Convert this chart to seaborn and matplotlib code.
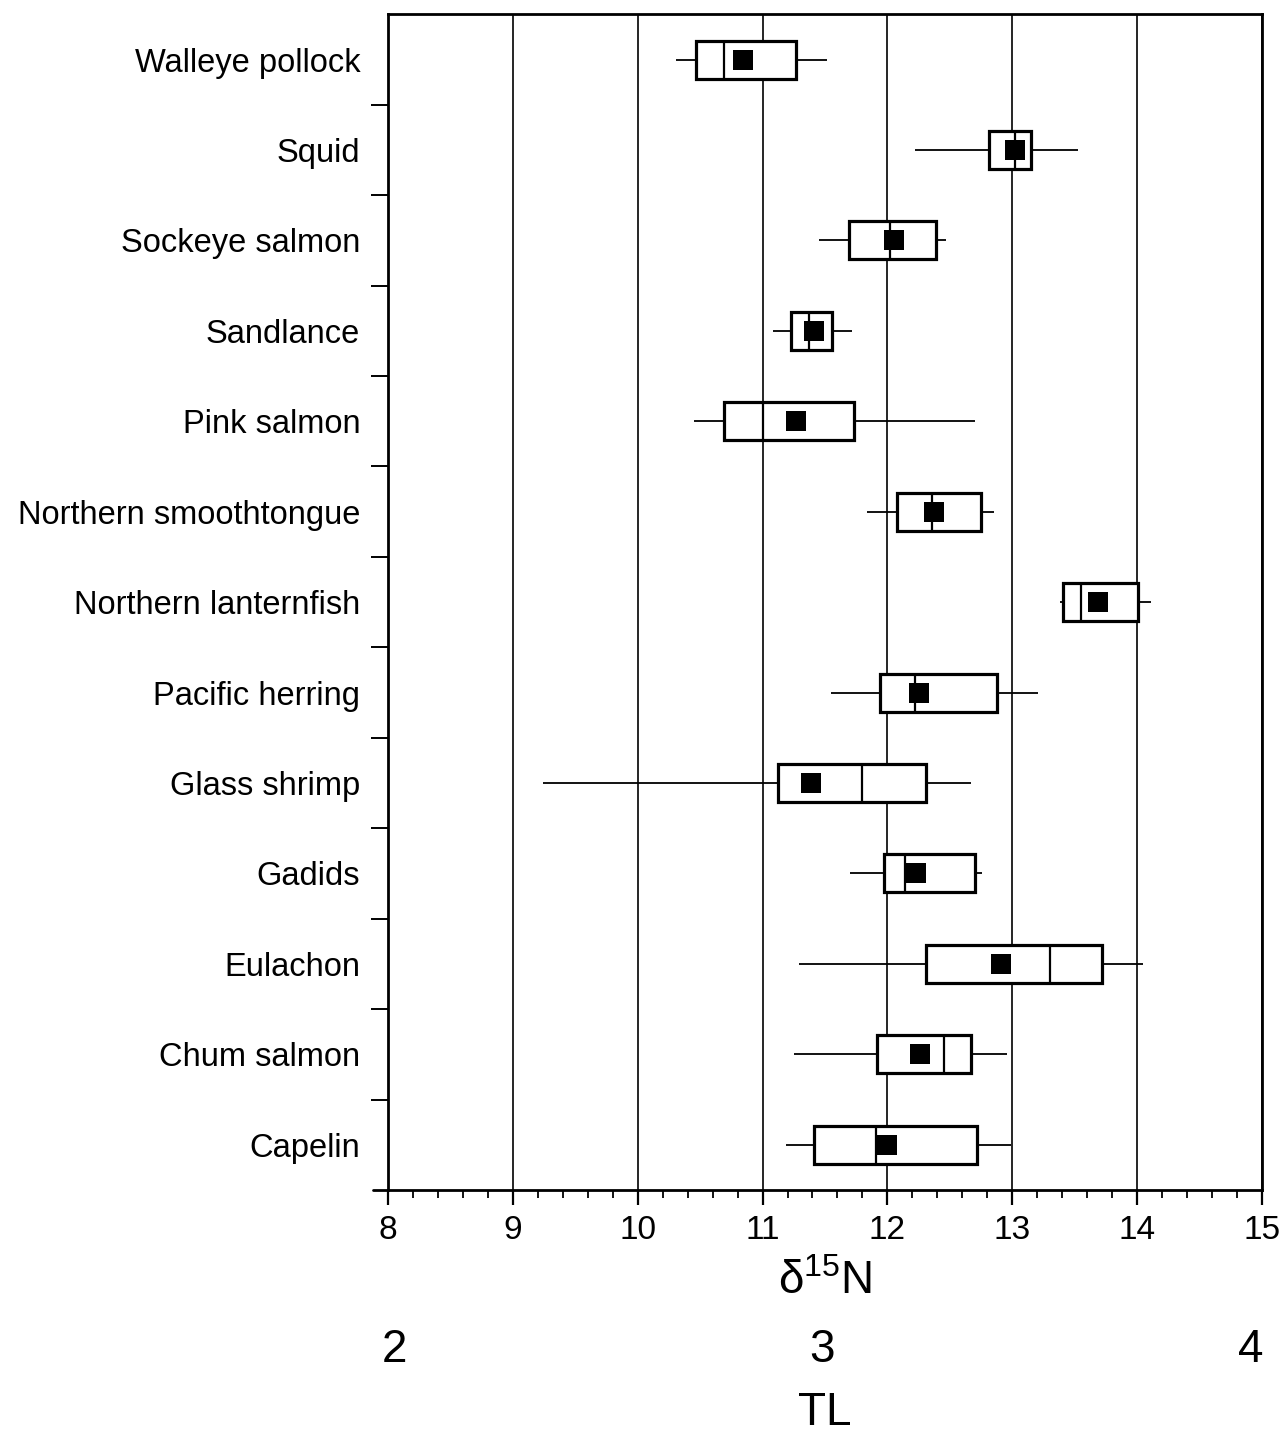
import numpy as np
import pandas as pd
import matplotlib
matplotlib.use("Agg")
import matplotlib.pyplot as plt
from matplotlib import font_manager
from matplotlib.ticker import MultipleLocator, FixedLocator, NullFormatter, NullLocator
from matplotlib.lines import Line2D
import seaborn as sns

# ---------------- data ----------------
species = ["Walleye pollock", "Squid", "Sockeye salmon", "Sandlance", "Pink salmon",
           "Northern smoothtongue", "Northern lanternfish", "Pacific herring",
           "Glass shrimp", "Gadids", "Eulachon", "Chum salmon", "Capelin"]
whisker_low = [10.31, 12.22, 11.45, 11.08, 10.45, 11.84, 13.38, 11.55, 9.24, 11.70, 11.29, 11.25, 11.19]
q1          = [10.47, 12.81, 11.69, 11.23, 10.69, 12.08, 13.41, 11.94, 11.12, 11.97, 12.31, 11.92, 11.41]
median      = [10.69, 13.02, 12.02, 11.37, 11.00, 12.36, 13.55, 12.22, 11.80, 12.14, 13.30, 12.45, 11.91]
q3          = [11.27, 13.15, 12.39, 11.56, 11.73, 12.75, 14.01, 12.88, 12.31, 12.70, 13.72, 12.67, 12.72]
whisker_high= [11.52, 13.53, 12.47, 11.72, 12.70, 12.85, 14.11, 13.21, 12.67, 12.76, 14.05, 12.96, 12.99]
mean        = [10.84, 13.02, 12.05, 11.41, 11.27, 12.37, 13.69, 12.25, 11.39, 12.23, 12.91, 12.26, 12.00]

x_ticks = [8, 9, 10, 11, 12, 13, 14, 15]
tl_levels = [2, 3, 4]
tl_base_d15n = 8.05     # d15N at TL = 2
tl_step = 3.43          # d15N enrichment per trophic level

# ---------------- fonts / style ----------------
def has_font(name):
    try:
        font_manager.findfont(font_manager.FontProperties(family=name), fallback_to_default=False)
        return True
    except Exception:
        return False

sns.set_style("ticks")
main_font = "Liberation Sans" if has_font("Liberation Sans") else "DejaVu Sans"
narrow_font = "Liberation Sans Narrow" if has_font("Liberation Sans Narrow") else main_font
plt.rcParams["font.family"] = [main_font, "DejaVu Sans"]
plt.rcParams["mathtext.fontset"] = "custom"
plt.rcParams["mathtext.rm"] = narrow_font
plt.rcParams["mathtext.it"] = narrow_font
for k in ["text.color", "axes.labelcolor", "xtick.color", "ytick.color",
          "xtick.labelcolor", "ytick.labelcolor", "axes.edgecolor"]:
    plt.rcParams[k] = "black"

# long-form table: five-number summaries per species -> boxplot with whiskers at min/max
rows = []
for sp, a, b, c, d, e in zip(species, whisker_low, q1, median, q3, whisker_high):
    for v in (a, b, c, d, e):
        rows.append({"species": sp, "d15n": v})
df = pd.DataFrame(rows)
df_mean = pd.DataFrame({"species": species, "d15n": mean})

fig = plt.figure(figsize=(12.86, 14.33), dpi=100)
ax = fig.add_axes([0.3017, 0.1696, 0.9813 - 0.3017, 0.990 - 0.1696])

sns.boxplot(data=df, x="d15n", y="species", order=species, orient="h",
            whis=np.inf, width=0.42, showcaps=False, fliersize=0,
            color="white", saturation=1, linecolor="black", linewidth=2.0,
            boxprops=dict(linewidth=2.3, edgecolor="black", facecolor="white"),
            whiskerprops=dict(linewidth=1.3, color="black"),
            medianprops=dict(linewidth=1.6, color="black"),
            ax=ax)
sns.stripplot(data=df_mean, x="d15n", y="species", order=species, orient="h",
              jitter=False, marker="s", size=14, color="black", linewidth=0,
              zorder=6, ax=ax)

ax.set_xlim(8, 15)
ax.set_ylim(12.5, -0.5)
ax.set_xticks(x_ticks)
ax.xaxis.set_minor_locator(MultipleLocator(0.2))
ax.xaxis.grid(True, which="major", color="black", linewidth=1.2)
ax.yaxis.grid(False)
ax.set_axisbelow(True)

for s in ax.spines.values():
    s.set_visible(True)
    s.set_linewidth(2.0)
    s.set_color("black")

# small overshoot of the x-axis line to the left, as in the original
ax.add_line(Line2D([-0.017, 0], [0, 0], transform=ax.transAxes, color="black",
                   linewidth=2.0, clip_on=False))

ax.tick_params(axis="x", which="both", bottom=True, top=False)
ax.tick_params(axis="x", which="major", direction="out", length=11, width=1.6,
               pad=7, labelsize=24, color="black", labelcolor="black")
ax.tick_params(axis="x", which="minor", direction="out", length=6, width=1.3, color="black")
for lab in ax.get_xticklabels():
    lab.set_family([narrow_font, "DejaVu Sans"])

# y: labels at row centres, ticks at row boundaries
ax.tick_params(axis="y", which="both", left=True, right=False)
ax.tick_params(axis="y", which="major", length=0, pad=20, labelsize=23.5, labelcolor="black")
ax.yaxis.set_minor_locator(FixedLocator(np.arange(0.5, 12.0, 1.0)))
ax.yaxis.set_minor_formatter(NullFormatter())
ax.tick_params(axis="y", which="minor", direction="out", length=12, width=1.4, color="black")
ax.set_ylabel("")
ax.set_xlabel(r"$\mathregular{\delta^{15}N}$", fontsize=33, labelpad=10, color="black")

# trophic level scale
def d_to_tl(d):
    return 2 + (np.asarray(d) - tl_base_d15n) / tl_step

def tl_to_d(t):
    return tl_base_d15n + (np.asarray(t) - 2) * tl_step

sec = ax.secondary_xaxis(-0.117, functions=(d_to_tl, tl_to_d))
sec.set_xticks(tl_levels)
sec.xaxis.set_minor_locator(NullLocator())
sec.tick_params(axis="x", which="both", length=0, pad=0, labelsize=33, labelcolor="black")
for lab in sec.get_xticklabels():
    lab.set_family([narrow_font, "DejaVu Sans"])
for s in sec.spines.values():
    s.set_visible(False)
sec.set_xlabel("TL", fontsize=33, labelpad=14, family=[narrow_font, "DejaVu Sans"], color="black")

fig.savefig("out.png", dpi=100)
